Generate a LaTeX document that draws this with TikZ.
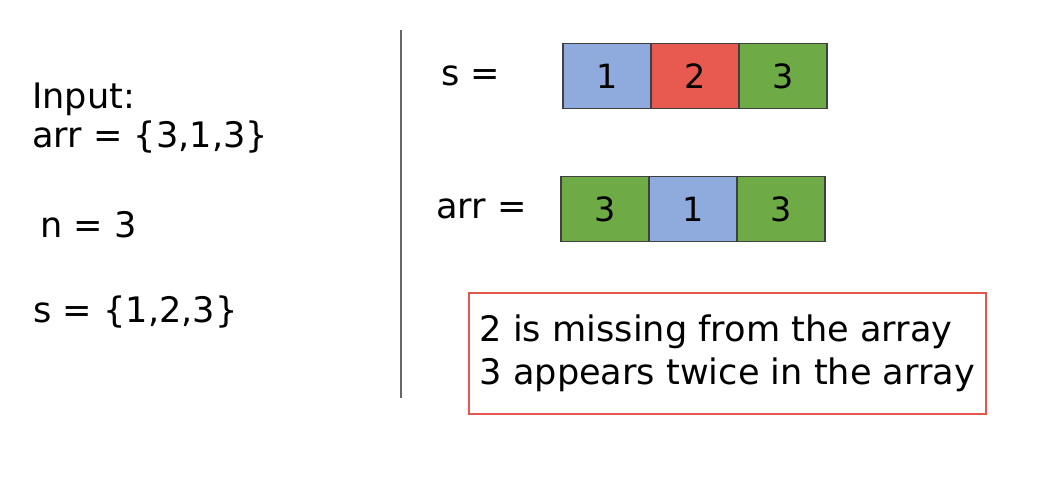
\documentclass[tikz,border=0pt]{standalone}
\usepackage{fontspec}
\setmainfont{DejaVu Sans}
\usetikzlibrary{positioning}
\definecolor{cellblue}{HTML}{8FAADC}
\definecolor{cellred}{HTML}{E8594F}
\definecolor{cellgreen}{HTML}{6EAA45}
\definecolor{boxred}{HTML}{E4564C}
\tikzset{
  bigfont/.style={font=\fontsize{20}{24}\selectfont},
  cell/.style={draw=black!75,line width=0.8pt,minimum width=1.76cm,
    minimum height=1.3cm,inner sep=0pt,outer sep=0pt,
    font=\fontsize{19}{23}\selectfont},
  txt/.style={anchor=base west,inner sep=0pt,bigfont}
}
\begin{document}
\begin{tikzpicture}[x=0.02cm,y=-0.02cm]
  \useasboundingbox (0,0) rectangle (1050,499);

  % left side: the input
  \node[txt] (input) at (32,109) {Input:};
  \node[txt] (arrdef) at (32,148) {arr = \{3,1,3\}};
  \node[txt] (ndef) at (40,238) {n = 3};
  \node[txt] (sdef) at (33,323) {s = \{1,2,3\}};

  % divider
  \coordinate (divtop) at (401,30);
  \coordinate (divbot) at (401,398);
  \draw[black!60,line width=0.8pt] (divtop) -- (divbot);

  % the set s
  \node[txt] (slabel) at (441,86) {s =};
  \node[cell,fill=cellblue] (s1) at (607,76) {1};
  \node[cell,fill=cellred,right=0pt of s1] (s2) {2};
  \node[cell,fill=cellgreen,right=0pt of s2] (s3) {3};

  % the array arr
  \node[txt] (arrlabel) at (436,219) {arr =};
  \node[cell,fill=cellgreen] (a1) at (605,209) {3};
  \node[cell,fill=cellblue,right=0pt of a1] (a2) {1};
  \node[cell,fill=cellgreen,right=0pt of a2] (a3) {3};

  % result
  \node[draw=boxred,line width=1pt,anchor=north west,minimum width=10.34cm,
    minimum height=2.42cm,align=left,bigfont] (result) at (468,292)
    {2 is missing from the array\\3 appears twice in the array};
\end{tikzpicture}
\end{document}
